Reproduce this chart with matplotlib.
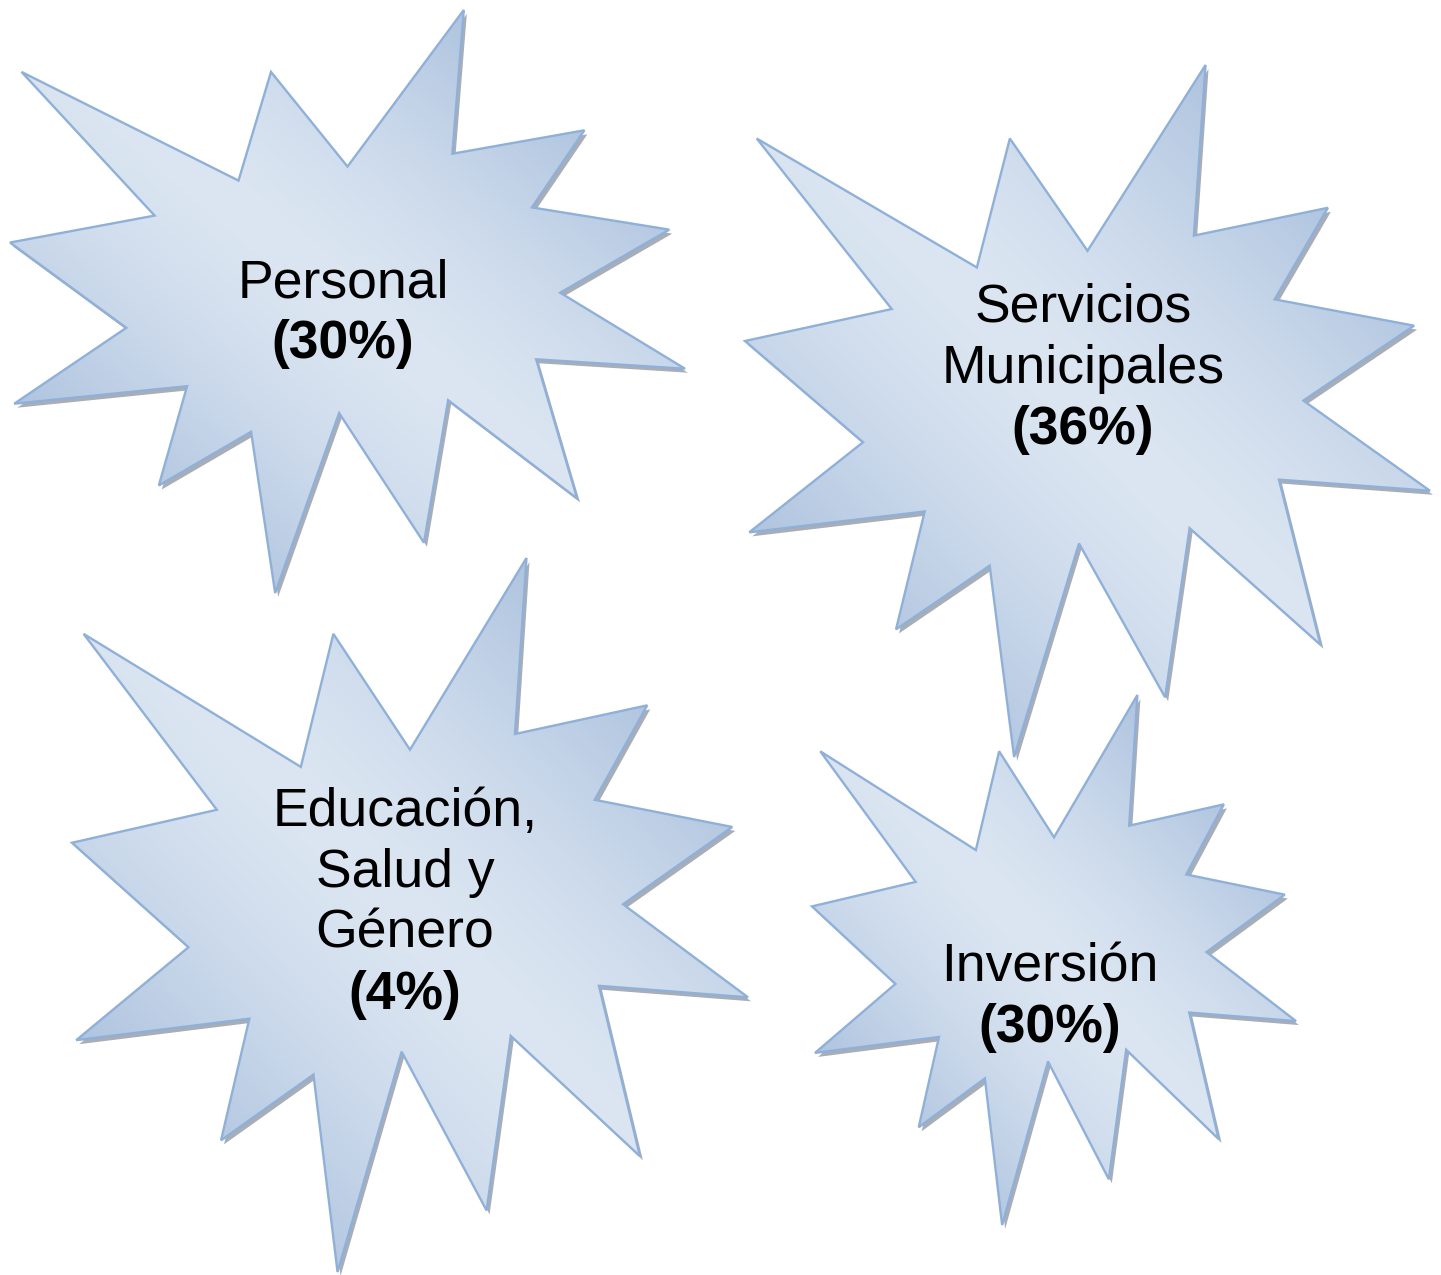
import numpy as np
import matplotlib
matplotlib.use("Agg")
import matplotlib.pyplot as plt
from matplotlib.path import Path
from matplotlib.patches import PathPatch
from matplotlib.colors import to_rgb

# ---- data ----
categories = ["Personal", "Servicios\nMunicipales", "Educación,\nSalud y\nGénero", "Inversión"]
percentages = [30, 36, 4, 30]

# ---- layout (pixel boxes of each explosion shape: x0, y0, w, h) ----
boxes = [(10, 10, 675, 583), (745, 65, 685, 692), (72, 558, 676, 714), (812, 695, 484, 530)]
text_x = [343, 1083, 405, 1050]
first_baseline = [297, 322, 826, 981]
line_step = 61

# PowerPoint "irregularSeal1" (Explosion 1) outline in a 21600 unit frame
seal = np.array([
    (10800, 5800), (14522, 0), (14155, 5325), (18380, 4457), (16702, 7315),
    (21097, 8137), (17607, 10475), (21600, 13290), (16837, 12942), (18145, 18095),
    (14020, 14457), (13247, 19737), (10532, 14935), (8485, 21600), (7715, 15627),
    (4762, 17617), (5667, 13937), (135, 14587), (3722, 11775), (0, 8615),
    (4627, 7617), (370, 2295), (7312, 6320), (8352, 2295)], dtype=float) / 21600.0

W, H = 1441, 1275
fig = plt.figure(figsize=(W / 100, H / 100), dpi=100)
ax = fig.add_axes([0, 0, 1, 1])
ax.set_xlim(0, W)
ax.set_ylim(H, 0)
ax.axis("off")

light = np.array(to_rgb("#dce6f2"))
dark = np.array(to_rgb("#a7bedc"))
edge = "#8fb0d8"

def make_path(x0, y0, w, h, dx=0, dy=0):
    pts = np.column_stack([x0 + seal[:, 0] * w + dx, y0 + seal[:, 1] * h + dy])
    pts = np.vstack([pts, pts[:1]])
    codes = [Path.MOVETO] + [Path.LINETO] * (len(pts) - 2) + [Path.CLOSEPOLY]
    return Path(pts, codes)

for (x0, y0, w, h), name, pct, tx, b0 in zip(boxes, categories, percentages, text_x, first_baseline):
    # shadow
    sp = PathPatch(make_path(x0, y0, w, h, 3, 4), facecolor="#8c929c", edgecolor="none",
                   alpha=0.75, zorder=1)
    ax.add_patch(sp)
    # gradient fill: light along the TL-BR diagonal, darker toward TR and BL corners
    p = make_path(x0, y0, w, h)
    patch = PathPatch(p, facecolor="none", edgecolor="none", zorder=2)
    ax.add_patch(patch)
    n = 300
    U, V = np.meshgrid(np.linspace(0, 1, n), np.linspace(0, 1, n))
    s = np.abs((U - 0.5) - (V - 0.5))
    t = np.clip(s / 0.75, 0, 1) ** 1.4
    img = light[None, None, :] * (1 - t[..., None]) + dark[None, None, :] * t[..., None]
    im = ax.imshow(img, extent=(x0, x0 + w, y0 + h, y0), origin="upper",
                   interpolation="bilinear", zorder=2, aspect="auto")
    im.set_clip_path(patch)
    # outline
    ax.add_patch(PathPatch(p, facecolor="none", edgecolor=edge, linewidth=1.7,
                           joinstyle="miter", zorder=3))
    # text
    lines = name.split("\n")
    for i, ln in enumerate(lines):
        ax.text(tx, b0 + i * line_step, ln, ha="center", va="baseline",
                fontsize=38.5, family="Liberation Sans", color="black", zorder=4)
    ax.text(tx, b0 + len(lines) * line_step, f"({pct}%)", ha="center", va="baseline",
            fontsize=38.5, family="Liberation Sans", fontweight="bold", color="black", zorder=4)

ax.set_xlim(0, W)
ax.set_ylim(H, 0)
fig.savefig("out.png", dpi=100, facecolor="white")
